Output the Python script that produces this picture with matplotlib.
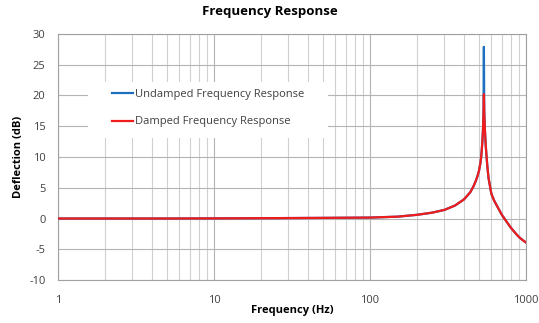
import matplotlib
matplotlib.use("Agg")
import matplotlib.pyplot as plt
from matplotlib.patches import Rectangle
from matplotlib.ticker import FixedLocator, NullFormatter

# values
freq_hz = [1, 2, 5, 10, 20, 50, 100, 150, 200, 250, 300, 350, 400, 420,
           440, 460, 480, 490, 500, 510, 515, 520, 525, 530, 534, 537,
           540, 545, 550, 555, 565, 575, 590, 600, 625, 650, 700, 750,
           800, 850, 900, 950, 1000]
damped_db = [0.0, 0.0, 0.0, 0.02, 0.05, 0.1, 0.15, 0.3, 0.6, 0.95, 1.4,
             2.1, 3.1, 3.7, 4.3, 5.2, 6.3, 7.0, 7.8, 9.0, 9.8, 11.0, 12.5,
             14.5, 17.0, 20.2, 17.0, 14.5, 12.5, 11.0, 8.5, 6.6, 5.0, 4.0,
             2.9, 2.1, 0.6, -0.5, -1.5, -2.3, -3.0, -3.5, -3.9]
undamped_db = [0.0, 0.0, 0.0, 0.02, 0.05, 0.1, 0.15, 0.3, 0.6, 0.95, 1.4,
               2.1, 3.1, 3.7, 4.3, 5.2, 6.3, 7.0, 7.8, 9.0, 9.8, 11.0, 12.5,
               14.5, 17.3, 27.9, 17.3, 14.5, 12.5, 11.0, 8.5, 6.6, 5.0, 4.0,
               2.9, 2.1, 0.6, -0.5, -1.5, -2.3, -3.0, -3.5, -3.9]
y_ticks = [-10, -5, 0, 5, 10, 15, 20, 25, 30]
x_ticks = [1, 10, 100, 1000]

plt.rcParams["font.family"] = ["Open Sans", "DejaVu Sans"]
plt.rcParams["axes.unicode_minus"] = False

fig = plt.figure(figsize=(5.39, 3.23), dpi=100)
ax = fig.add_axes([0.1076, 0.133, 0.8683, 0.762])

ax.plot(freq_hz, undamped_db, color="#1f6fc0", linewidth=1.6,
        label="Undamped Frequency Response", zorder=3)
ax.plot(freq_hz, damped_db, color="#ee1c1c", linewidth=1.6,
        label="Damped Frequency Response", zorder=4)

ax.set_xscale("log")
ax.set_xlim(1, 1000)
ax.set_ylim(-10, 30)
ax.set_yticks(y_ticks)
ax.xaxis.set_major_locator(FixedLocator(x_ticks))
ax.set_xticklabels([str(t) for t in x_ticks])
minors = [m * d for d in (1, 10, 100) for m in range(2, 10)]
ax.xaxis.set_minor_locator(FixedLocator(minors))
ax.xaxis.set_minor_formatter(NullFormatter())
ax.tick_params(which="both", length=0, labelsize=8, colors="#404040")
ax.tick_params(axis="x", pad=11)
ax.tick_params(axis="y", pad=9)

ax.grid(True, which="major", color="#b4b4b4", linewidth=0.8)
ax.grid(True, which="minor", axis="x", color="#d0d0d0", linewidth=0.8)
ax.set_axisbelow(True)
for s in ax.spines.values():
    s.set_color("#a0a0a0")
    s.set_linewidth(0.8)

ax.set_xlabel("Frequency (Hz)", fontsize=8, fontweight="bold", labelpad=-1)
ax.set_ylabel("Deflection (dB)", fontsize=8, fontweight="bold", labelpad=4)
fig.suptitle("Frequency Response", x=0.5, y=0.985, fontsize=9.5,
             fontweight="bold")

# white legend area that hides the grid, like the original
ax.add_patch(Rectangle((0.064, 0.577), 0.513, 0.228, transform=ax.transAxes,
                       facecolor="white", edgecolor="none", zorder=1))
leg = ax.legend(loc="upper left", bbox_to_anchor=(0.115, 0.775),
                fontsize=8, frameon=False, handlelength=1.9,
                handletextpad=0.15, borderpad=0, labelspacing=1.45,
                borderaxespad=0)
for t in leg.get_texts():
    t.set_color("#404040")

fig.savefig("out.png", dpi=100)
